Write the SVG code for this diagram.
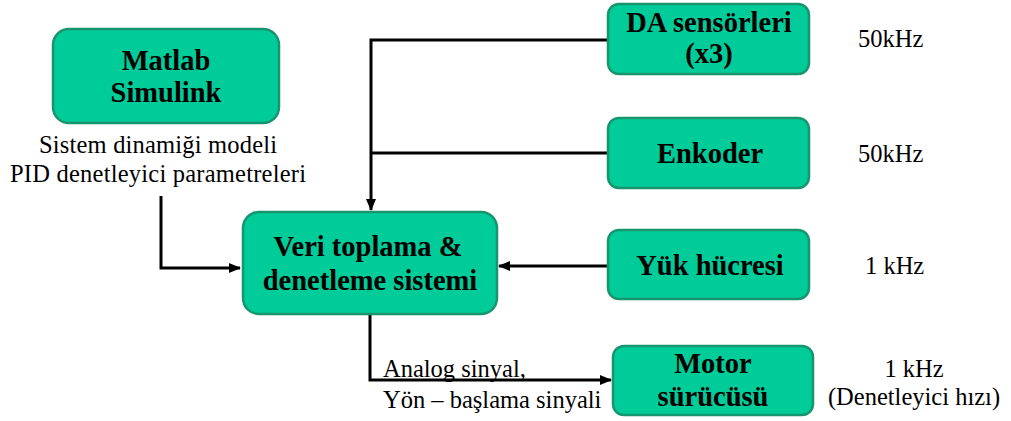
<svg xmlns="http://www.w3.org/2000/svg" width="1011" height="421" viewBox="0 0 1011 421">
<defs>
<style>
.box{fill:#00cc99;stroke:#17956f;stroke-width:2.5}
.lbl{font-family:"Liberation Serif","Times New Roman",serif;font-weight:bold;font-size:28.5px;fill:#000;text-anchor:middle}
.txt{font-family:"Liberation Serif","Times New Roman",serif;font-size:24.5px;fill:#000}
.ln{fill:none;stroke:#000;stroke-width:3}
</style>
<marker id="ah" viewBox="0 0 12 10" refX="11" refY="5" markerWidth="12" markerHeight="10" markerUnits="userSpaceOnUse" orient="auto">
<path d="M0,0 L12,5 L0,10 Z" fill="#000"/>
</marker>
</defs>
<rect width="1011" height="421" fill="#fff"/>
<g id="connectors">
<path class="ln" d="M608,40 H371 V210" marker-end="url(#ah)"/>
<path class="ln" d="M608,153 H371"/>
<path class="ln" d="M608,266 H499" marker-end="url(#ah)"/>
<path class="ln" d="M161,196 V268 H240" marker-end="url(#ah)"/>
<path class="ln" d="M370,315 V380 H611" marker-end="url(#ah)"/>
</g>
<g id="matlab">
<rect class="box" x="53" y="29" width="226" height="94" rx="16"/>
<text class="lbl" x="166" y="70">Matlab</text>
<text class="lbl" x="166" y="102">Simulink</text>
</g>
<g id="matlab-note">
<text class="txt" x="158" y="153" text-anchor="middle" font-size="25" textLength="238" lengthAdjust="spacing">Sistem dinamiği modeli</text>
<text class="txt" x="158" y="182" text-anchor="middle" font-size="25" textLength="296" lengthAdjust="spacing">PID denetleyici parametreleri</text>
</g>
<g id="veri">
<rect class="box" x="243" y="212" width="254" height="102" rx="16"/>
<text class="lbl" x="368" y="256">Veri toplama &amp;</text>
<text class="lbl" x="370" y="290">denetleme sistemi</text>
</g>
<g id="da">
<rect class="box" x="608" y="4" width="201" height="70" rx="11"/>
<text class="lbl" x="709" y="32">DA sensörleri</text>
<text class="lbl" x="709" y="63">(x3)</text>
</g>
<g id="enkoder">
<rect class="box" x="608" y="118" width="201" height="70" rx="11"/>
<text class="lbl" x="710" y="163">Enkoder</text>
</g>
<g id="yuk">
<rect class="box" x="608" y="230" width="201" height="69" rx="11"/>
<text class="lbl" x="710" y="275">Yük hücresi</text>
</g>
<g id="motor">
<rect class="box" x="613" y="346" width="200" height="69" rx="11"/>
<text class="lbl" x="713" y="373">Motor</text>
<text class="lbl" x="713" y="406">sürücüsü</text>
</g>
<g id="labels">
<text class="txt" x="383" y="377">Analog sinyal,</text>
<text class="txt" x="383" y="408">Yön – başlama sinyali</text>
<text class="txt" x="858" y="47">50kHz</text>
<text class="txt" x="858" y="162">50kHz</text>
<text class="txt" x="865" y="274">1 kHz</text>
<text class="txt" x="914" y="377" text-anchor="middle">1 kHz</text>
<text class="txt" x="914" y="405" text-anchor="middle">(Denetleyici hızı)</text>
</g>
</svg>
